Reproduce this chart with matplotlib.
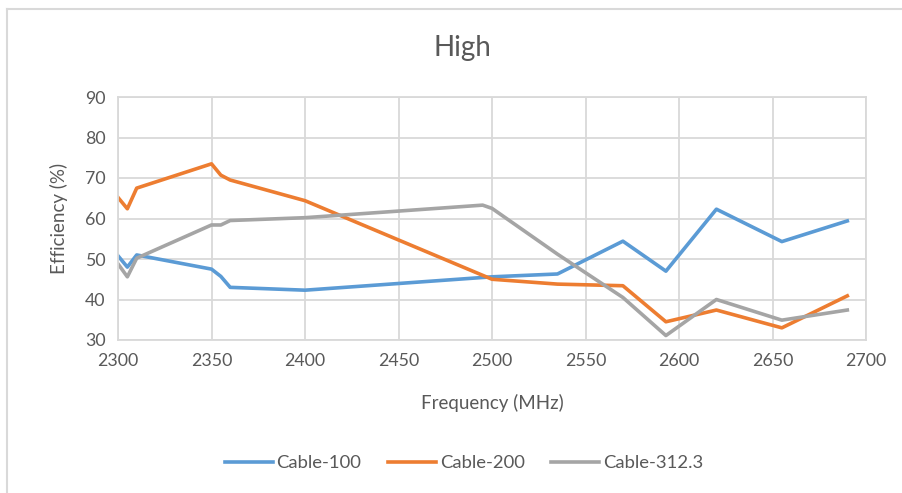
import matplotlib
matplotlib.use("Agg")
import matplotlib.pyplot as plt
from matplotlib.lines import Line2D

plt.rcParams['font.family'] = ['Lato', 'DejaVu Sans']

# Efficiency measurements, high band
freq_100 = [2300, 2305, 2310, 2350, 2355, 2360, 2400, 2500, 2535, 2570, 2593, 2620, 2655, 2690]
eff_100 = [50.8, 48.0, 51.0, 47.5, 45.7, 43.0, 42.3, 45.6, 46.3, 54.4, 47.0, 62.3, 54.3, 59.4]

freq_200 = [2300, 2305, 2310, 2350, 2355, 2360, 2400, 2500, 2535, 2570, 2593, 2620, 2655, 2690]
eff_200 = [65.2, 62.4, 67.5, 73.5, 70.7, 69.5, 64.4, 45.0, 43.8, 43.4, 34.5, 37.4, 33.0, 40.9]

freq_312 = [2300, 2305, 2310, 2350, 2355, 2360, 2400, 2495, 2500, 2535, 2570, 2593, 2620, 2655, 2690]
eff_312 = [48.8, 45.6, 50.2, 58.4, 58.4, 59.5, 60.2, 63.3, 62.5, 51.2, 40.5, 31.1, 40.0, 34.9, 37.4]

x_ticks = [2300, 2350, 2400, 2450, 2500, 2550, 2600, 2650, 2700]
y_ticks = [30, 40, 50, 60, 70, 80, 90]

text_col = '#595959'
grid_col = '#D9D9D9'

fig = plt.figure(figsize=(9.02, 4.93), dpi=100)
ax = fig.add_axes([118/902, 1 - 340/493, (866-118)/902, (340-97)/493])

ax.plot(freq_100, eff_100, color='#5B9BD5', lw=2.6, label='Cable-100', solid_joinstyle='round')
ax.plot(freq_200, eff_200, color='#ED7D31', lw=2.6, label='Cable-200', solid_joinstyle='round')
ax.plot(freq_312, eff_312, color='#A5A5A5', lw=2.6, label='Cable-312.3', solid_joinstyle='round')

ax.set_xlim(2300, 2700)
ax.set_ylim(30, 90)
ax.set_xticks(x_ticks)
ax.set_yticks(y_ticks)
ax.grid(True, color=grid_col, lw=1.3)
ax.set_axisbelow(True)
for side in ['top', 'left', 'right', 'bottom']:
    ax.spines[side].set_color(grid_col)
    ax.spines[side].set_linewidth(1.3)
ax.tick_params(length=0, labelsize=12.8, colors=text_col, pad=9)

ax.set_xlabel('Frequency (MHz)', fontsize=13.5, color=text_col, labelpad=18)
ax.set_ylabel('Efficiency (%)', fontsize=13.5, color=text_col, labelpad=12)
fig.text(462/902, 1 - 48/493, 'High', ha='center', va='center', fontsize=20, color=text_col)

ax.legend(loc='center', bbox_to_anchor=(464/902, 1 - 463/493), bbox_transform=fig.transFigure,
          ncol=3, frameon=False, fontsize=13.3, labelcolor=text_col,
          handlelength=2.6, handletextpad=0.2, columnspacing=1.45)

# chart border (top and left edges)
fig.add_artist(Line2D([7/902, 7/902], [0, 1 - 9/493], transform=fig.transFigure, color=grid_col, lw=1.5))
fig.add_artist(Line2D([7/902, 1], [1 - 9/493, 1 - 9/493], transform=fig.transFigure, color=grid_col, lw=1.5))

fig.savefig('out.png', dpi=100)
